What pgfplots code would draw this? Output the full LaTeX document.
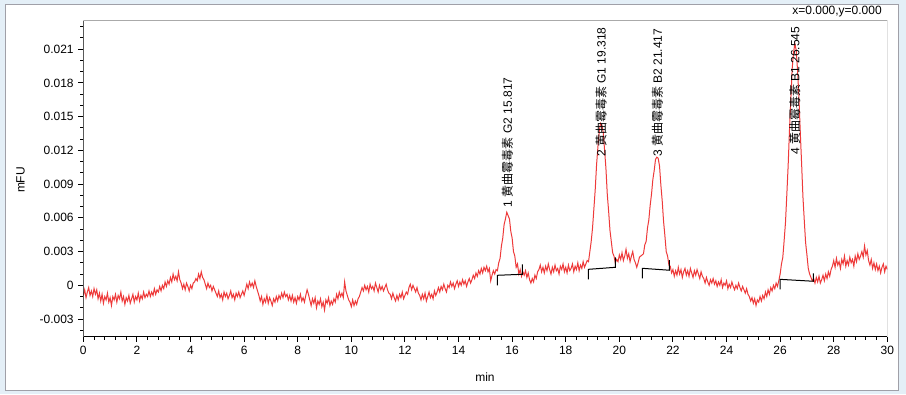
\documentclass[border=0pt]{standalone}
\usepackage{pgfplots}
\pgfplotsset{compat=1.18}
\usepackage{fontspec}
\setmainfont{Liberation Sans}
\newfontfamily\cjk{Noto Sans CJK SC}
\definecolor{bgblue}{RGB}{228,239,247}
\definecolor{framegray}{RGB}{160,160,168}
\definecolor{axgray}{RGB}{170,170,170}
\definecolor{trace}{RGB}{238,58,58}
\begin{document}
\begin{tikzpicture}
\path[use as bounding box, fill=bgblue] (0,0) rectangle (679.5pt,295.5pt);
\draw[framegray, fill=white, line width=0.75pt] (3.75pt,3pt) rectangle (673.5pt,292.5pt);
\begin{axis}[
  at={(62.5pt,43pt)}, anchor=south west,
  scale only axis, width=603pt, height=237pt,
  xmin=0, xmax=30, ymin=-0.00457, ymax=0.02354,
  axis line style={draw=none},
  xtick={0,2,4,6,8,10,12,14,16,18,20,22,24,26,28,30},
  minor x tick num=4,
  ytick={-0.003,0,0.003,0.006,0.009,0.012,0.015,0.018,0.021},
  minor ytick={-0.004,-0.002,-0.001,0.001,0.002,0.004,0.005,0.007,0.008,0.010,0.011,0.013,0.014,0.016,0.017,0.019,0.020,0.022,0.023},
  tick align=outside, xtick pos=bottom, ytick pos=left,
  major tick length=3.75pt, minor tick length=2.25pt,
  tick style={black, line width=0.75pt},
  scaled y ticks=false,
  yticklabel style={/pgf/number format/fixed, /pgf/number format/precision=3},
  /pgf/number format/assume math mode=true,
  ticklabel style={font=\fontsize{9}{10}\selectfont},
]
\addplot[trace, line width=0.75pt] coordinates {
(0,-0.0009)(0.05,-0.0004)(0.1,-0.0011)(0.15,-0.0006)(0.2,-0.0002)(0.25,-0.0009)(0.3,-0.0005)(0.35,-0.0010)(0.4,-0.0003)(0.45,-0.0008)(0.5,-0.0004)(0.55,-0.0012)(0.6,-0.0007)
(0.65,-0.0014)(0.7,-0.0008)(0.75,-0.0016)(0.8,-0.0010)(0.85,-0.0013)(0.9,-0.0007)(0.95,-0.0015)(1,-0.0011)(1.05,-0.0018)(1.1,-0.0010)(1.15,-0.0013)(1.2,-0.0008)(1.25,-0.0015)(1.3,-0.0009)(1.35,-0.0012)(1.4,-0.0006)(1.45,-0.0014)(1.5,-0.0010)(1.55,-0.0017)(1.6,-0.0011)(1.65,-0.0014)(1.7,-0.0009)(1.75,-0.0016)(1.8,-0.0012)(1.85,-0.0008)(1.9,-0.0015)(1.95,-0.0010)(2,-0.0013)(2.05,-0.0007)(2.1,-0.0014)(2.15,-0.0009)(2.2,-0.0012)(2.25,-0.0006)(2.3,-0.0011)(2.35,-0.0008)(2.4,-0.0010)
(2.45,-0.0005)(2.5,-0.0010)(2.55,-0.0006)(2.6,-0.0009)(2.65,-0.0003)(2.7,-0.0008)(2.75,-0.0004)(2.8,-0.0006)
(2.85,-0.0001)(2.9,-0.0005)(2.95,0)(3,-0.0003)(3.05,0.0003)(3.1,-0.0001)(3.15,0.0004)(3.2,0.0001)(3.25,0.0007)(3.3,0.0003)(3.35,0.0010)(3.4,0.0005)(3.45,0.0008)(3.5,0.0004)(3.55,0.0012)(3.6,0.0005)
(3.65,0.0002)(3.7,-0.0003)(3.75,0.0001)(3.8,-0.0004)(3.85,0.0002)(3.9,-0.0001)(3.95,-0.0005)(4,0)(4.05,-0.0003)(4.1,0.0002)
(4.15,0.0003)(4.2,0.0006)(4.25,0.0004)(4.3,0.0010)(4.35,0.0006)(4.4,0.0012)(4.45,0.0007)(4.5,0.0005)
(4.55,0.0001)(4.6,-0.0003)(4.65,0.0002)(4.7,-0.0002)(4.75,0)(4.8,-0.0005)(4.85,-0.0001)(4.9,-0.0004)
(4.95,-0.0007)(5,-0.0010)(5.05,-0.0005)(5.1,-0.0011)(5.15,-0.0008)(5.2,-0.0013)(5.25,-0.0006)(5.3,-0.0010)(5.35,-0.0007)(5.4,-0.0012)(5.45,-0.0009)(5.5,-0.0005)(5.55,-0.0011)(5.6,-0.0008)(5.65,-0.0013)(5.7,-0.0007)(5.75,-0.0010)(5.8,-0.0006)(5.85,-0.0011)(5.9,-0.0008)(5.95,-0.0005)(6,-0.0009)
(6.05,-0.0004)(6.1,0.0001)(6.15,-0.0003)(6.2,0.0003)(6.25,-0.0001)(6.3,0.0002)(6.35,-0.0002)(6.4,0.0004)(6.45,-0.0001)(6.5,-0.0005)
(6.55,-0.0009)(6.6,-0.0014)(6.65,-0.0010)(6.7,-0.0017)(6.75,-0.0012)(6.8,-0.0015)(6.85,-0.0009)(6.9,-0.0016)(6.95,-0.0011)(7,-0.0014)(7.05,-0.0018)(7.1,-0.0012)(7.15,-0.0015)(7.2,-0.0010)(7.25,-0.0014)(7.3,-0.0009)(7.35,-0.0012)
(7.4,-0.0007)(7.45,-0.0011)(7.5,-0.0006)(7.55,-0.0010)(7.6,-0.0008)(7.65,-0.0013)(7.7,-0.0009)
(7.75,-0.0014)(7.8,-0.0009)(7.85,-0.0015)(7.9,-0.0011)(7.95,-0.0016)(8,-0.0010)(8.05,-0.0013)(8.1,-0.0008)(8.15,-0.0014)(8.2,-0.0011)(8.25,-0.0015)(8.3,-0.0009)
(8.35,-0.0004)(8.4,-0.0008)
(8.45,-0.0013)(8.5,-0.0018)(8.55,-0.0012)(8.6,-0.0016)(8.65,-0.0011)(8.7,-0.0020)(8.75,-0.0014)(8.8,-0.0017)(8.85,-0.0012)(8.9,-0.0019)(8.95,-0.0015)(9,-0.0022)(9.05,-0.0013)(9.1,-0.0016)(9.15,-0.0011)(9.2,-0.0018)(9.25,-0.0014)(9.3,-0.0017)(9.35,-0.0012)(9.4,-0.0015)
(9.45,-0.0008)(9.5,-0.0012)(9.55,-0.0006)(9.6,-0.0010)(9.65,-0.0007)(9.7,-0.0011)(9.75,0.0003)(9.8,-0.0005)(9.85,-0.0009)(9.9,-0.0013)
(9.95,-0.0015)(10,-0.0019)(10.05,-0.0013)(10.1,-0.0018)(10.15,-0.0014)(10.2,-0.0017)(10.25,-0.0012)(10.3,-0.0010)
(10.35,-0.0006)(10.4,-0.0002)(10.45,-0.0005)(10.5,0)(10.55,-0.0004)(10.6,-0.0001)(10.65,-0.0006)(10.7,0.0001)(10.75,-0.0003)(10.8,-0.0001)(10.85,-0.0005)(10.9,0.0002)(10.95,-0.0002)(11,-0.0006)(11.05,0)(11.1,-0.0004)(11.15,-0.0001)(11.2,-0.0005)(11.25,-0.0002)(11.3,0.0001)(11.35,-0.0004)(11.4,-0.0007)
(11.45,-0.0008)(11.5,-0.0012)(11.55,-0.0007)(11.6,-0.0011)(11.65,-0.0014)(11.7,-0.0009)(11.75,-0.0013)(11.8,-0.0008)(11.85,-0.0011)(11.9,-0.0006)(11.95,-0.0012)(12,-0.0009)(12.05,-0.0006)(12.1,-0.0008)
(12.15,-0.0002)(12.2,0.0001)(12.25,-0.0004)(12.3,0)(12.35,-0.0003)(12.4,-0.0006)(12.45,-0.0002)(12.5,-0.0007)
(12.55,-0.0009)(12.6,-0.0013)(12.65,-0.0008)(12.7,-0.0012)(12.75,-0.0007)(12.8,-0.0014)(12.85,-0.0010)(12.9,-0.0006)(12.95,-0.0011)(13,-0.0008)(13.05,-0.0012)(13.1,-0.0005)(13.15,-0.0009)(13.2,-0.0006)
(13.25,-0.0002)(13.3,-0.0006)(13.35,-0.0001)(13.4,-0.0004)(13.45,0.0001)(13.5,-0.0003)(13.55,-0.0006)(13.6,0)(13.65,-0.0002)(13.7,0.0003)(13.75,-0.0001)(13.8,0.0002)(13.85,-0.0003)(13.9,0.0001)(13.95,0.0004)(14,-0.0001)(14.05,0.0003)(14.1,0)(14.15,0.0005)(14.2,0.0001)(14.25,0.0004)(14.3,-0.0001)(14.35,0.0003)(14.4,0.0006)(14.45,0.0002)(14.5,0.0005)
(14.55,0.0009)(14.6,0.0006)(14.65,0.0011)(14.7,0.0008)(14.75,0.0013)(14.8,0.0010)(14.85,0.0015)(14.9,0.0011)(14.95,0.0016)(15,0.0013)
(15.05,0.0017)(15.1,0.0012)(15.15,0.0015)(15.2,0.0004)(15.25,0.0009)(15.3,0.0013)(15.35,0.0010)(15.4,0.0014)
(15.45,0.0013)(15.5,0.0020)(15.55,0.0024)(15.6,0.0035)(15.65,0.0042)(15.7,0.0054)(15.75,0.0059)(15.8,0.0065)(15.85,0.0062)(15.9,0.0059)(15.95,0.0048)(16,0.0042)(16.05,0.0030)(16.1,0.0026)(16.15,0.0016)(16.2,0.0019)(16.25,0.0010)(16.3,0.0014)(16.35,0.0008)(16.4,0.0012)
(16.45,0.0009)(16.5,0.0013)(16.55,0.0007)(16.6,0.0011)(16.65,0.0005)(16.7,0.0002)(16.75,0.0006)(16.8,0.0003)(16.85,0.0009)(16.9,0.0006)(16.95,0.0012)
(17,0.0014)(17.05,0.0018)(17.1,0.0012)(17.15,0.0016)(17.2,0.0011)(17.25,0.0017)(17.3,0.0013)(17.35,0.0019)(17.4,0.0014)(17.45,0.0010)(17.5,0.0016)(17.55,0.0012)(17.6,0.0018)(17.65,0.0013)(17.7,0.0015)(17.75,0.0010)(17.8,0.0017)(17.85,0.0014)(17.9,0.0019)(17.95,0.0012)(18,0.0016)(18.05,0.0011)(18.1,0.0018)(18.15,0.0013)(18.2,0.0015)(18.25,0.0019)(18.3,0.0012)(18.35,0.0017)(18.4,0.0014)(18.45,0.0020)(18.5,0.0013)(18.55,0.0018)(18.6,0.0015)(18.65,0.0021)(18.7,0.0016)(18.75,0.0019)
(18.8,0.0022)(18.85,0.0021)(18.9,0.0030)(18.95,0.0039)(19,0.0051)(19.05,0.0068)(19.1,0.0085)(19.15,0.0107)(19.2,0.0123)(19.25,0.0137)(19.3,0.0144)(19.35,0.0142)(19.4,0.0136)(19.45,0.0120)(19.5,0.0104)(19.55,0.0081)(19.6,0.0066)(19.65,0.0049)(19.7,0.0039)(19.75,0.0029)(19.8,0.0026)(19.85,0.0020)(19.9,0.0023)
(19.95,0.0021)(20,0.0027)(20.05,0.0023)(20.1,0.0029)(20.15,0.0022)(20.2,0.0026)(20.25,0.0032)(20.3,0.0024)(20.35,0.0028)(20.4,0.0021)(20.45,0.0026)(20.5,0.0030)(20.55,0.0023)(20.6,0.0020)(20.65,0.0016)(20.7,0.0020)(20.75,0.0025)(20.8,0.0026)
(20.85,0.0027)(20.9,0.0028)(20.95,0.0036)(21,0.0039)(21.05,0.0051)(21.1,0.0058)(21.15,0.0071)(21.2,0.0081)(21.25,0.0094)(21.3,0.0102)(21.35,0.0112)(21.4,0.0114)(21.45,0.0113)(21.5,0.0106)(21.55,0.0089)(21.6,0.0075)(21.65,0.0057)(21.7,0.0044)(21.75,0.0030)(21.8,0.0026)(21.85,0.0018)(21.9,0.0017)(21.95,0.0011)
(22,0.0014)(22.05,0.0008)(22.1,0.0013)(22.15,0.0009)(22.2,0.0016)(22.25,0.0010)(22.3,0.0014)(22.35,0.0007)(22.4,0.0012)(22.45,0.0015)(22.5,0.0009)(22.55,0.0013)(22.6,0.0008)(22.65,0.0015)(22.7,0.0011)(22.75,0.0007)(22.8,0.0013)(22.85,0.0009)(22.9,0.0014)(22.95,0.0010)(23,0.0006)(23.05,0.0012)(23.1,0.0008)
(23.15,0.0006)(23.2,0.0002)(23.25,0.0007)(23.3,0.0003)(23.35,0)(23.4,0.0005)(23.45,0.0002)(23.5,0.0006)(23.55,0.0001)(23.6,0.0004)(23.65,-0.0001)(23.7,0.0003)(23.75,0)(23.8,0.0005)(23.85,-0.0002)(23.9,0.0002)(23.95,0)(24,0.0004)(24.05,-0.0003)(24.1,0.0001)(24.15,-0.0002)(24.2,0.0003)(24.25,-0.0001)(24.3,-0.0004)(24.35,0)(24.4,-0.0003)(24.45,0.0002)(24.5,-0.0002)(24.55,-0.0005)(24.6,-0.0001)(24.65,-0.0004)(24.7,-0.0007)(24.75,-0.0003)(24.8,-0.0008)
(24.85,-0.0010)(24.9,-0.0014)(24.95,-0.0011)(25,-0.0016)(25.05,-0.0012)(25.1,-0.0018)(25.15,-0.0013)(25.2,-0.0015)(25.25,-0.0010)(25.3,-0.0014)(25.35,-0.0009)(25.4,-0.0012)
(25.45,-0.0006)(25.5,-0.0010)(25.55,-0.0004)(25.6,-0.0008)(25.65,-0.0002)(25.7,-0.0005)(25.75,0)(25.8,-0.0003)(25.85,0.0002)(25.9,-0.0001)(25.95,0.0004)
(26,0.0010)(26.05,0.0019)(26.1,0.0025)(26.15,0.0040)(26.2,0.0056)(26.25,0.0081)(26.3,0.0107)(26.35,0.0139)(26.4,0.0166)(26.45,0.0193)(26.5,0.0207)(26.55,0.0215)(26.6,0.0209)(26.65,0.0191)(26.7,0.0168)(26.75,0.0137)(26.8,0.0109)(26.85,0.0079)(26.9,0.0058)(26.95,0.0038)(27,0.0027)(27.05,0.0015)(27.1,0.0010)(27.15,0.0007)(27.2,0.0004)
(27.25,0.0006)(27.3,0.0002)(27.35,0.0007)(27.4,0.0003)(27.45,0.0008)(27.5,0.0002)(27.55,0.0005)(27.6,0.0009)(27.65,0.0004)(27.7,0.0010)(27.75,0.0006)(27.8,0.0012)(27.85,0.0008)(27.9,0.0014)
(27.95,0.0017)(28,0.0022)(28.05,0.0016)(28.1,0.0024)(28.15,0.0018)(28.2,0.0021)(28.25,0.0015)(28.3,0.0023)(28.35,0.0019)(28.4,0.0026)(28.45,0.0017)(28.5,0.0022)(28.55,0.0018)(28.6,0.0025)(28.65,0.0020)(28.7,0.0023)(28.75,0.0017)(28.8,0.0026)(28.85,0.0021)(28.9,0.0028)(28.95,0.0023)(29,0.0026)
(29.05,0.0030)(29.1,0.0025)(29.15,0.0035)(29.2,0.0027)(29.25,0.0031)
(29.3,0.0022)(29.35,0.0018)(29.4,0.0023)(29.45,0.0015)(29.5,0.0020)(29.55,0.0014)(29.6,0.0019)(29.65,0.0013)(29.7,0.0017)(29.75,0.0011)(29.8,0.0016)(29.85,0.0019)(29.9,0.0012)(29.95,0.0017)(30,0.0014)
};
% integration baselines
\addplot[black, line width=0.75pt] coordinates {(15.45,0.0000)(15.45,0.00089)(16.38,0.00098)(16.38,0.00187)};
\addplot[black, line width=0.75pt] coordinates {(18.84,0.00053)(18.84,0.00142)(19.85,0.00160)(19.85,0.00249)};
\addplot[black, line width=0.75pt] coordinates {(20.86,0.00062)(20.86,0.00151)(21.87,0.00134)(21.87,0.00223)};
\addplot[black, line width=0.75pt] coordinates {(26.00,-0.00036)(26.00,0.00053)(27.24,0.00036)(27.24,0.00107)};
% peak labels
\node[rotate=90, anchor=west, inner sep=0pt, font=\fontsize{9}{10}\selectfont] at (axis cs:15.817,0.00694) {1 {\cjk 黄曲霉毒素} G2 15.817};
\node[rotate=90, anchor=west, inner sep=0pt, font=\fontsize{9}{10}\selectfont] at (axis cs:19.318,0.0114) {2 {\cjk 黄曲霉毒素} G1 19.318};
\node[rotate=90, anchor=west, inner sep=0pt, font=\fontsize{9}{10}\selectfont] at (axis cs:21.417,0.0114) {3 {\cjk 黄曲霉毒素} B2 21.417};
\node[rotate=90, anchor=west, inner sep=0pt, font=\fontsize{9}{10}\selectfont] at (axis cs:26.545,0.01157) {4 {\cjk 黄曲霉毒素} B1 26.545};
% frame
\draw[black, line width=0.75pt] (rel axis cs:0,1) -- (rel axis cs:0,0) -- (rel axis cs:1,0);
\draw[axgray, line width=0.75pt] (rel axis cs:0,1) -- (rel axis cs:1,1) -- (rel axis cs:1,0);
\end{axis}
\node[font=\fontsize{9}{10}\selectfont] at (363.75pt,12.75pt) {min};
\node[rotate=90, font=\fontsize{9}{10}\selectfont] at (15.4pt,160.5pt) {mFU};
\node[anchor=east, inner sep=0pt, font=\fontsize{9}{10}\selectfont] at (661.5pt,286.5pt) {x=0.000,y=0.000};
\end{tikzpicture}
\end{document}
